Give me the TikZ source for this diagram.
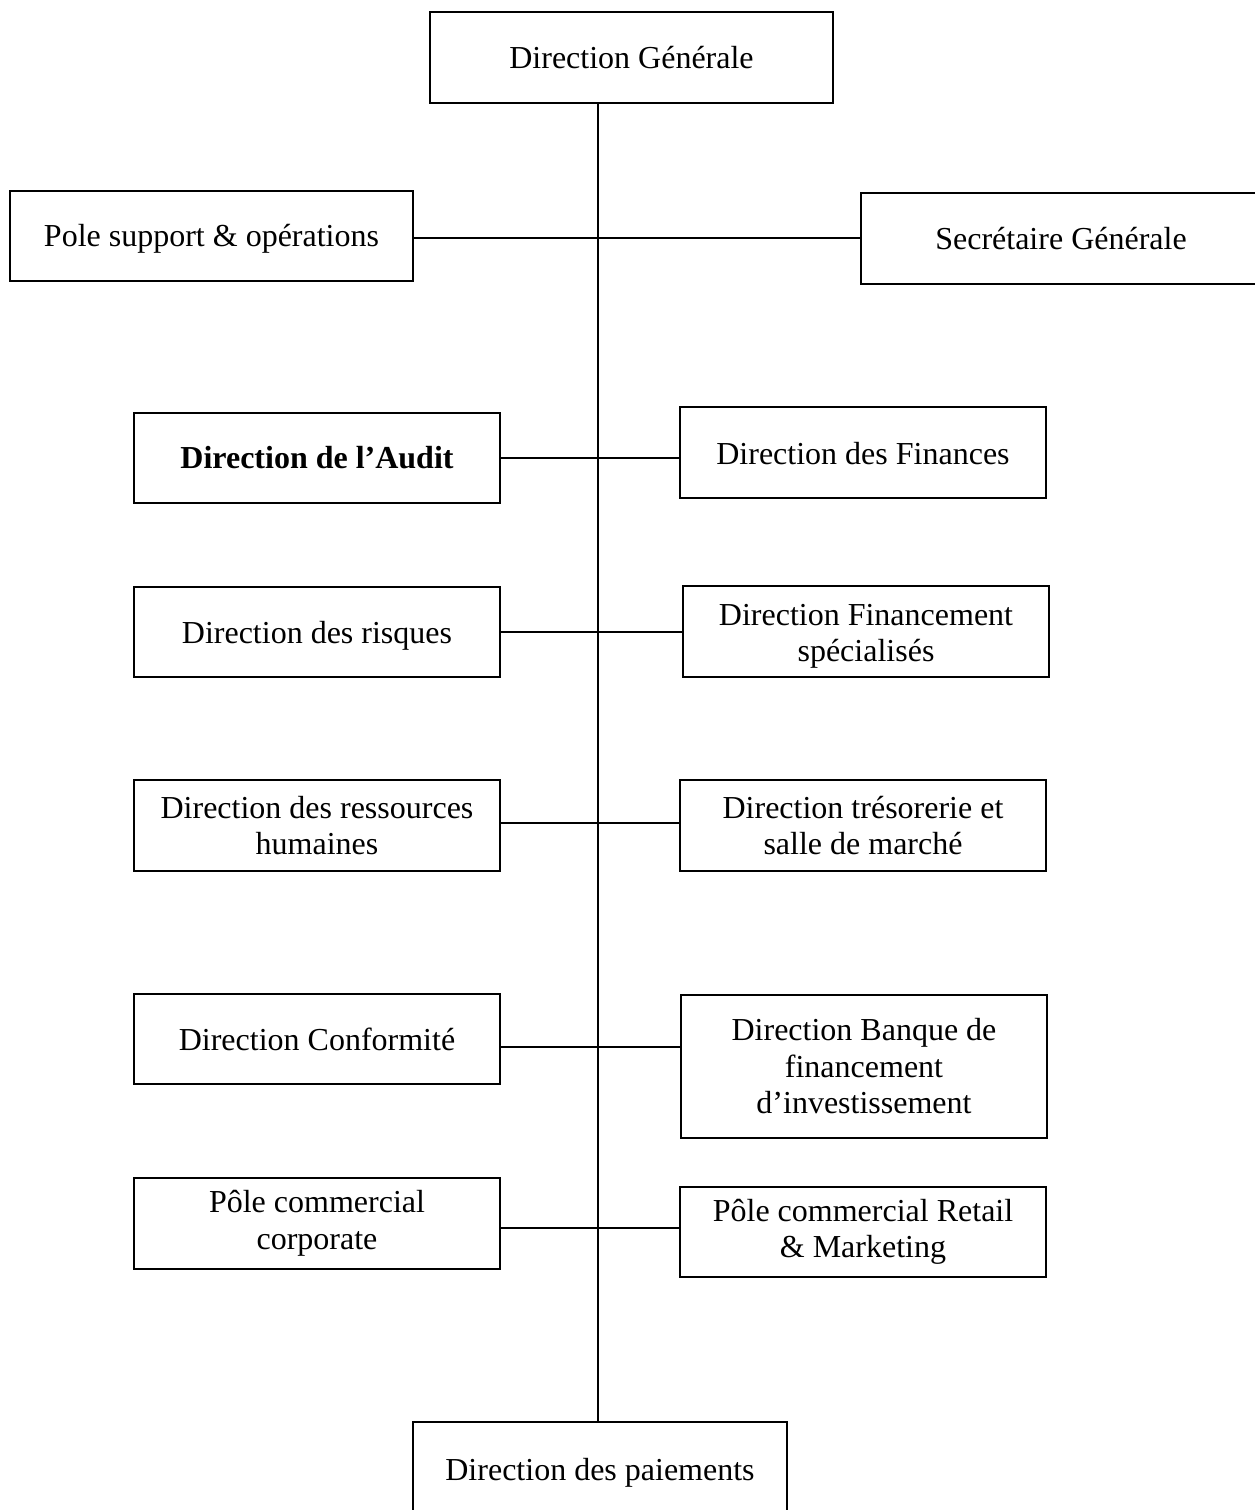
\documentclass[tikz,border=0pt]{standalone}
\usepackage{fontspec}
\setmainfont{Liberation Serif}
\begin{document}
\begin{tikzpicture}[x=1pt,y=-1pt,
  box/.style={draw=black,line width=2.2pt,rectangle,inner sep=0pt,align=center,
    font=\fontsize{32}{36.5}\selectfont},
  lower/.style={text height=#1,text depth=7pt},
  link/.style={draw=black,line width=2.2pt}]
\useasboundingbox (0,0) rectangle (1255,1510);
% boxes (center x, center y, width, height)
\node[box,minimum width=403,minimum height=91] (dg) at (631.5,57.5) {Direction Générale};
\node[box,lower=28pt,minimum width=403,minimum height=90] (pole) at (211.5,236) {Pole support \& opérations};
\node[box,lower=28pt,minimum width=400,minimum height=91] (secr) at (1061,238.5) {Secrétaire Générale};
\node[box,minimum width=366,minimum height=90] (audit) at (317,458) {\bfseries Direction de l’Audit};
\node[box,lower=30pt,minimum width=366,minimum height=91] (fin) at (863,452.5) {Direction des Finances};
\node[box,lower=30pt,minimum width=366,minimum height=90] (risk) at (317,632) {Direction des risques};
\node[box,text height=22pt,text depth=35pt,minimum width=366,minimum height=91] (spec) at (866,631.5)
  {\begin{tabular}[t]{@{}c@{}}Direction Financement\\spécialisés\end{tabular}};
\node[box,minimum width=366,minimum height=91] (rh) at (317,825.5) {Direction des ressources\\humaines};
\node[box,minimum width=366,minimum height=91] (tres) at (863,825.5) {Direction trésorerie et\\salle de marché};
\node[box,lower=30pt,minimum width=366,minimum height=90] (conf) at (317,1039) {Direction Conformité};
\node[box,minimum width=366,minimum height=143] (banq) at (864,1066.5) {Direction Banque de\\financement\\d’investissement};
\node[box,minimum width=366,minimum height=91] (corp) at (317,1223.5) {Pôle commercial\\corporate};
\node[box,minimum width=366,minimum height=90] (retail) at (863,1232) {Pôle commercial Retail\\\& Marketing};
\node[box,lower=30pt,minimum width=374,minimum height=93] (pay) at (600,1468.5) {Direction des paiements};
% connectors
\draw[link] ([xshift=-2]pay.north) -- ([xshift=-2]pay.north |- dg.south);
\draw[link] ([yshift=-2]pole.east) -- ([yshift=-2]pole.east -| secr.west);
\draw[link] (audit.east) -- (audit.east -| fin.west);
\draw[link] (risk.east) -- (risk.east -| spec.west);
\draw[link] ([yshift=2.5]rh.east) -- ([yshift=2.5]rh.east -| tres.west);
\draw[link] ([yshift=-8]conf.east) -- ([yshift=-8]conf.east -| banq.west);
\draw[link] ([yshift=-4.5]corp.east) -- ([yshift=-4.5]corp.east -| retail.west);
\end{tikzpicture}
\end{document}
